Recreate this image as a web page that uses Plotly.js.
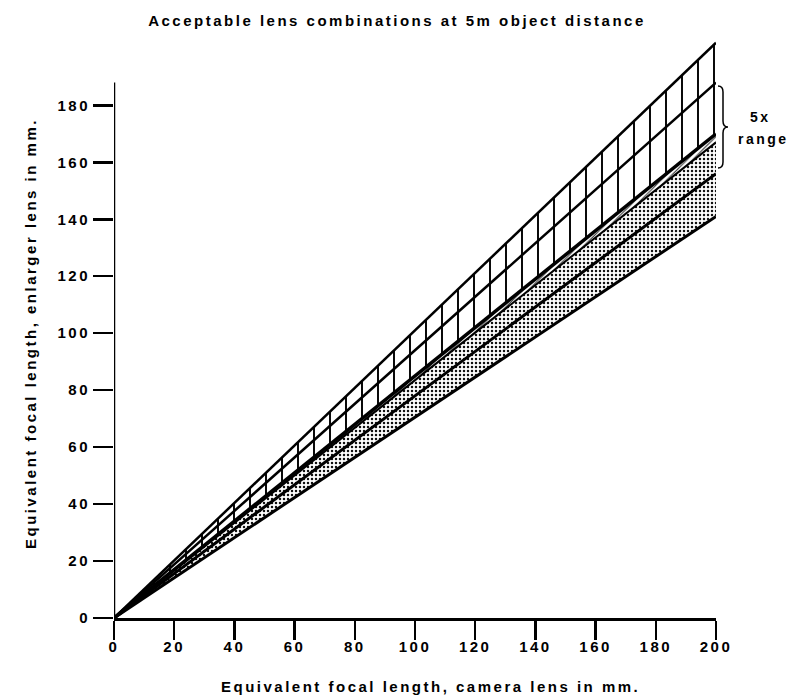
<!DOCTYPE html>
<html>
<head>
<meta charset="utf-8">
<script src="https://cdn.plot.ly/plotly-3.0.1.min.js"></script>
<style>
  html, body { margin: 0; padding: 0; background: #fff; }
  #chart { width: 791px; height: 698px; }
  svg text { letter-spacing: 2.5px; }
</style>
</head>
<body>
<div id="chart"></div>
<script>
// Camera lens focal length (mm) at the line end points
const cameraFocal = [0, 200];
// Enlarger lens focal length (mm) for each boundary line, read at the end points
const lineA = [0, 202];   // top hatched limit
const lineB = [0, 188];
const lineC = [0, 170];   // heavy line
const lineD = [0, 167];
const lineE = [0, 156];
const lineF = [0, 141];   // bottom stippled limit

const xTicks = [0, 20, 40, 60, 80, 100, 120, 140, 160, 180, 200];
const yTicks = [0, 20, 40, 60, 80, 100, 120, 140, 160, 180];

const titleText = 'Acceptable lens combinations at 5m object distance';
const xTitleText = 'Equivalent focal length, camera lens in mm.';
const yTitleText = 'Equivalent focal length, enlarger lens in mm.';
const braceLabel = ['5x', 'range'];

// layout geometry (pixels)
const M = { l: 114, r: 75, t: 37, b: 80 };
const W = 791, H = 698;
const PW = W - M.l - M.r, PH = H - M.t - M.b;
const px = p => (p - M.l) / PW;
const py = p => (H - M.b - p) / PH;

const FONT = 'Liberation Sans, Arial, Helvetica, sans-serif';
const F = (s) => ({ family: FONT, size: s || 15, color: '#000', weight: 'bold' });

const stipple = { shape: '.', size: 4, solidity: 0.3, fgcolor: '#111', bgcolor: 'white', fillmode: 'replace' };
const hatch = { shape: '|', size: 16, solidity: 0.12, fgcolor: '#000', bgcolor: 'white', fillmode: 'replace' };
const band = { shape: '/', size: 4, solidity: 0.25, fgcolor: '#222', bgcolor: 'white', fillmode: 'replace' };

function ln(y, w, fill, pattern) {
  const t = { x: cameraFocal, y: y, type: 'scatter', mode: 'lines',
    line: { color: '#000', width: w }, hoverinfo: 'skip', showlegend: false };
  if (fill) { t.fill = 'tonexty'; t.fillcolor = 'white'; t.fillpattern = pattern; }
  return t;
}

const data = [
  ln(lineF, 3),
  ln(lineE, 3, true, stipple),
  ln(lineD, 2, true, stipple),
  ln(lineC, 3.5, true, band),
  ln(lineB, 2.5, true, hatch),
  ln(lineA, 2.5, true, hatch)
];

// brace "}" drawn in pixel space converted to paper coords
const bx = 723, bTop = 86, bBot = 168, bMid = (bTop + bBot) / 2;
const bracePath =
  `M${px(bx - 5)},${py(bTop)} Q${px(bx)},${py(bTop)} ${px(bx)},${py(bTop + 6)} ` +
  `L${px(bx)},${py(bMid - 6)} Q${px(bx)},${py(bMid)} ${px(bx + 5)},${py(bMid)} ` +
  `Q${px(bx)},${py(bMid)} ${px(bx)},${py(bMid + 6)} ` +
  `L${px(bx)},${py(bBot - 6)} Q${px(bx)},${py(bBot)} ${px(bx - 5)},${py(bBot)}`;

const layout = {
  width: W, height: H,
  margin: M,
  paper_bgcolor: '#fff', plot_bgcolor: '#fff',
  font: F(15),
  showlegend: false,
  title: { text: titleText, x: 397 / W, xanchor: 'center', xref: 'container',
           y: 1 - 21 / H, yanchor: 'middle', yref: 'container', font: F(15) },
  xaxis: {
    range: [0, 200], tickvals: xTicks, ticktext: xTicks.map(String),
    showgrid: false, zeroline: false, showline: true, linewidth: 3, linecolor: '#000',
    ticks: 'outside', ticklen: 19, tickwidth: 2.5, tickcolor: '#000',
    ticklabelstandoff: -6,
    tickfont: F(15), fixedrange: true
  },
  yaxis: {
    range: [0, 204], tickvals: yTicks, ticktext: yTicks.map(String),
    showgrid: false, zeroline: false, showline: false,
    ticks: 'outside', ticklen: 20, tickwidth: 2.5, tickcolor: '#000',
    tickfont: F(15), fixedrange: true
  },
  shapes: [
    { type: 'line', xref: 'x', yref: 'y', x0: 0, x1: 0, y0: 0, y1: 188,
      line: { color: '#000', width: 2.5 } },
    { type: 'path', xref: 'paper', yref: 'paper', path: bracePath,
      line: { color: '#000', width: 1.5 } }
  ],
  annotations: [
    { text: xTitleText, xref: 'paper', yref: 'paper', x: px(430), y: py(686),
      xanchor: 'center', yanchor: 'middle', showarrow: false, font: F(15) },
    { text: yTitleText, xref: 'paper', yref: 'paper', x: px(30), y: py(334),
      xanchor: 'center', yanchor: 'middle', showarrow: false, textangle: -90, font: F(15) },
    { text: braceLabel[0], xref: 'paper', yref: 'paper', x: px(760), y: py(117),
      xanchor: 'center', yanchor: 'middle', showarrow: false, font: F(14) },
    { text: braceLabel[1], xref: 'paper', yref: 'paper', x: px(763), y: py(139),
      xanchor: 'center', yanchor: 'middle', showarrow: false, font: F(14) }
  ]
};

Plotly.newPlot('chart', data, layout, { staticPlot: true, displayModeBar: false });
</script>
</body>
</html>
